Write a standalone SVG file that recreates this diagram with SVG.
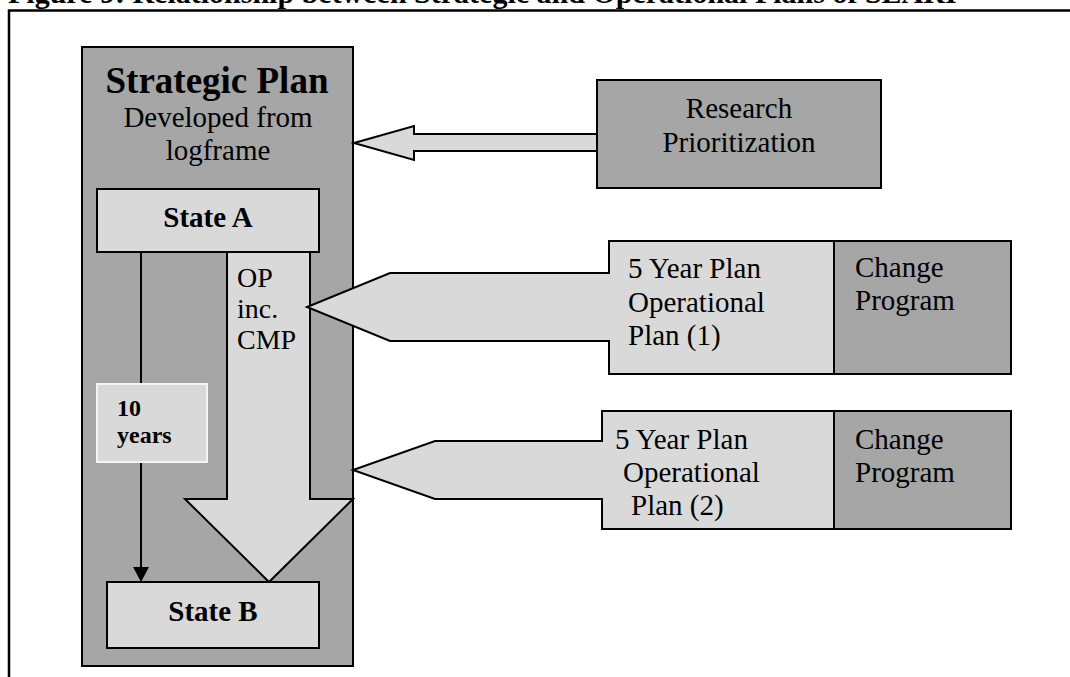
<svg xmlns="http://www.w3.org/2000/svg" width="1070" height="677" viewBox="0 0 1070 677">
<style>
text{font-family:"Liberation Serif","Times New Roman",serif;fill:#000}
.b{font-weight:bold}
.t29{font-size:29px}
.dark{fill:#a6a6a6;stroke:#000;stroke-width:2}
.light{fill:#d9d9d9;stroke:#000;stroke-width:2}
</style>
<rect width="1070" height="677" fill="#fff"/>
<text class="b" x="8" y="3" font-size="30">Figure 9: Relationship between Strategic and Operational Plans of SEARI</text>
<path d="M9,677 V10.5 H1070" fill="none" stroke="#000" stroke-width="2.5"/>

<g id="strategic-plan">
<rect class="dark" x="82" y="47" width="271" height="619"/>
<text class="b" x="217" y="93" font-size="37" text-anchor="middle">Strategic Plan</text>
<text class="t29" x="218" y="127" text-anchor="middle">Developed from</text>
<text class="t29" x="218" y="160" text-anchor="middle">logframe</text>
</g>

<g id="connectors">
<polygon id="op-arrow" class="light" points="227,252 310,252 310,499 353,499 269,582 185,499 227,499"/>
<line x1="141" y1="252" x2="141" y2="568" stroke="#000" stroke-width="2"/>
<polygon points="133,567 149,567 141,582" fill="#000"/>
<polygon id="research-arrow" class="light" points="354,143 414,126 414,134 598,134 598,151 414,151 414,160"/>
</g>

<g id="state-a">
<rect class="light" x="97" y="189" width="222" height="63"/>
<text class="b t29" x="208" y="227" text-anchor="middle">State A</text>
</g>

<g id="op-label">
<text x="237" y="287" font-size="28">OP</text>
<text x="237" y="318" font-size="28">inc.</text>
<text x="237" y="349" font-size="28">CMP</text>
</g>

<g id="ten-years">
<rect x="97" y="384" width="110" height="78" fill="#d9d9d9" stroke="#f4f4f4" stroke-width="2"/>
<text class="b" x="117" y="416" font-size="24">10</text>
<text class="b" x="117" y="443" font-size="24">years</text>
</g>

<g id="state-b">
<rect class="light" x="107" y="582" width="212" height="66"/>
<text class="b t29" x="213" y="621" text-anchor="middle">State B</text>
</g>

<g id="research-prioritization">
<rect class="dark" x="597" y="80" width="284" height="108"/>
<text class="t29" x="739" y="118" text-anchor="middle">Research</text>
<text class="t29" x="739" y="152" text-anchor="middle">Prioritization</text>
</g>

<g id="operational-plan-1">
<polygon class="light" points="609,241 834,241 834,374 609,374 609,341 390,341 307,307 390,273 609,273"/>
<text class="t29" x="628" y="278">5 Year Plan</text>
<text class="t29" x="628" y="312">Operational</text>
<text class="t29" x="628" y="345">Plan (1)</text>
</g>
<g id="change-program-1">
<rect class="dark" x="834" y="241" width="177" height="133"/>
<text class="t29" x="855" y="277">Change</text>
<text class="t29" x="855" y="310">Program</text>
</g>

<g id="operational-plan-2">
<polygon class="light" points="602,411 834,411 834,529 602,529 602,499 435,499 353,470 435,441 602,441"/>
<text class="t29" x="615" y="449">5 Year Plan</text>
<text class="t29" x="623" y="482">Operational</text>
<text class="t29" x="631" y="515">Plan (2)</text>
</g>
<g id="change-program-2">
<rect class="dark" x="834" y="411" width="177" height="118"/>
<text class="t29" x="855" y="449">Change</text>
<text class="t29" x="855" y="482">Program</text>
</g>
</svg>
